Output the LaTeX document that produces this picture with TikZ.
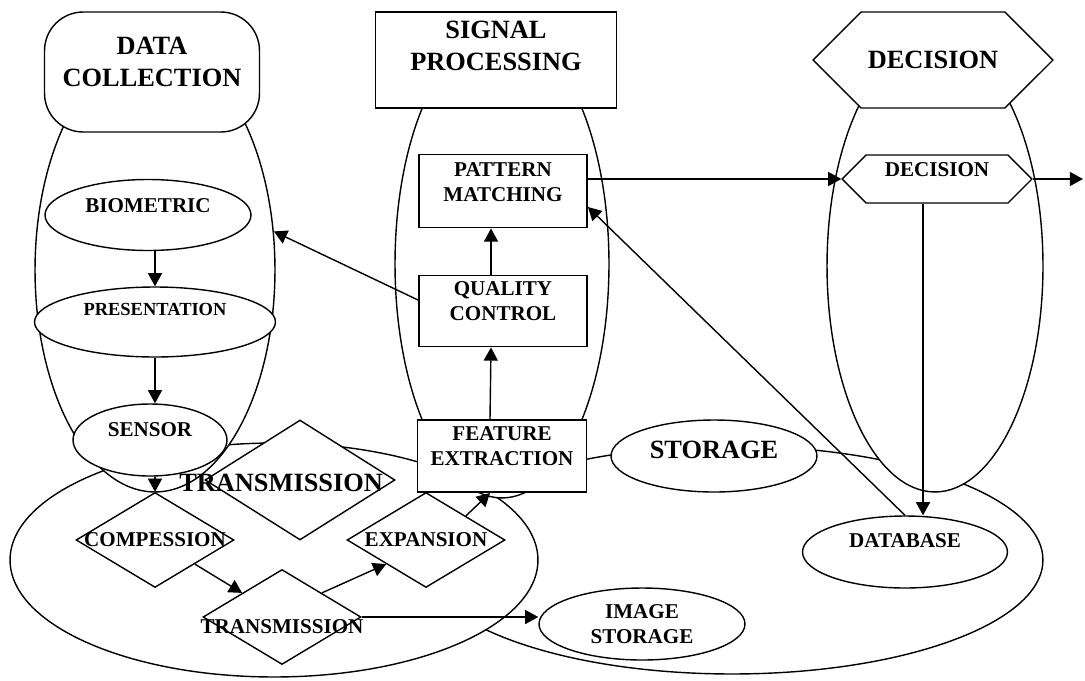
\documentclass[tikz,border=0pt]{standalone}
\usepackage{fontspec}
\setmainfont{Liberation Serif}
\usetikzlibrary{shapes.geometric,shapes.misc,arrows.meta,positioning}

\begin{document}
\begin{tikzpicture}[x=0.02cm, y=-0.02cm, line width=0.8pt,
    every node/.style={font=\bfseries\fontsize{12}{14}\selectfont, align=center, inner sep=0.5pt},
    headfont/.style={font=\bfseries\fontsize{15}{18}\selectfont},
    region/.style={draw, ellipse, fill=white},
    oval/.style={draw, ellipse, fill=white, minimum width=4.12cm, minimum height=1.44cm},
    procbox/.style={draw, rectangle, fill=white, line width=1.1pt, minimum width=3.36cm, minimum height=1.44cm},
    gem/.style={draw, diamond, fill=white, minimum width=3.16cm, minimum height=1.9cm},
    hex/.style={draw, chamfered rectangle, fill=white, inner ysep=0pt},
    lift/.style={text height=0pt, text depth=#1},
    drop/.style={text depth=0pt, text height=#1},
    arr/.style={-{Triangle[length=7.5pt,width=8pt]}}]

    \useasboundingbox (0,0) rectangle (1085,680);

    % group ellipses
    \node[region, minimum width=12.44cm, minimum height=4.56cm] (stgrp) at (732,560) {};
    \node[region, minimum width=10.56cm, minimum height=4.68cm] (trgrp) at (274,560) {};
    \node[region, minimum width=4.32cm, minimum height=9.04cm] (decgrp) at (935,266) {};
    \node[region, minimum width=4.28cm, minimum height=9.36cm] (spgrp) at (502,264) {};
    \node[region, minimum width=4.8cm, minimum height=8.88cm] (dcgrp) at (155,270) {};

    % headers
    \node[draw, fill=white, rounded corners=22pt, minimum width=4.3cm, minimum height=2.4cm,
          headfont, drop=16.4pt] (dchead) at (152,72) {DATA\\COLLECTION};
    \node[procbox, minimum width=4.82cm, minimum height=1.92cm, headfont, drop=11.9pt] (sphead) at (496,60) {SIGNAL\\PROCESSING};
    \node[hex, minimum width=4.8cm, minimum height=1.92cm, chamfered rectangle xsep=0.98cm,
          chamfered rectangle ysep=0.96cm, headfont] (dechead) at (933,60)
          {\raisebox{-4.9pt}[0pt][0pt]{DECISION}};

    % data collection
    \node[oval, minimum height=1.42cm, lift=3.4pt] (biometric) at (148,215) {BIOMETRIC};
    \node[oval, minimum width=4.82cm, minimum height=1.4cm, font=\bfseries\fontsize{10.5}{12}\selectfont,
          lift=7.3pt] (presentation) at (155,322) {PRESENTATION};
    \node[oval, minimum width=3.08cm, lift=4.1pt] (sensor) at (150,440) {SENSOR};

    % signal processing
    \node[procbox, minimum height=1.46cm, drop=11.7pt] (pattern) at (503,191) {PATTERN\\MATCHING};
    \node[procbox, minimum height=1.42cm, drop=10.6pt] (quality) at (503,311) {QUALITY\\CONTROL};
    \node[procbox, minimum width=3.38cm, drop=10.6pt] (feature) at (502,456) {FEATURE\\EXTRACTION};

    % decision
    \node[hex, minimum width=3.8cm, minimum height=0.96cm, chamfered rectangle xsep=0.74cm,
          chamfered rectangle ysep=0.48cm] (decision) at (937,179)
          {\raisebox{1.15pt}[0pt][0pt]{DECISION}};
    \node[oval, minimum width=4.1cm, lift=4.6pt] (database) at (905,552) {DATABASE};

    % storage
    \node[oval, headfont, drop=3pt] (storage) at (714,456) {STORAGE};
    \node[oval, drop=21.9pt] (imgstore) at (642,624) {IMAGE\\STORAGE};

    % transmission
    \node[gem, minimum width=3.8cm, minimum height=2.4cm, headfont, drop=13.2pt] (trhead) at (300,480)
          {\makebox[0pt]{TRANSMISSION\hspace{21.5pt}}};
    \node[gem] (compress) at (155,540) {\makebox[0pt]{COMPESSION}};
    \node[gem, drop=19.2pt] (transmit) at (282,617) {\makebox[0pt]{TRANSMISSION}};
    \node[gem] (expand) at (426,540) {\makebox[0pt]{EXPANSION}};

    % arrows
    \draw[arr] (presentation.north |- biometric.south) -- (presentation.north);
    \draw[arr] (presentation.south) -- (presentation.south |- sensor.north);
    \draw[arr] (compress.north |- sensor.south) -- (compress.north);
    \draw[arr] (compress.south east) -- (transmit.north west);
    \draw[arr] (transmit.north east) -- (expand.south west);
    \draw[arr] (expand.north east) -- ([xshift=-0.24cm]feature.south);
    \draw[arr] (transmit.east) -- (transmit.east -| imgstore.west);
    \draw[arr] ([xshift=-0.24cm]feature.north) -- ([xshift=-0.24cm]quality.south);
    \draw[arr] ([xshift=-0.24cm]quality.north) -- ([xshift=-0.24cm]pattern.south);
    \draw[arr] ([yshift=0.22cm]quality.west) -- (dcgrp.18);
    \draw[arr] (pattern.east |- decision.west) -- (decision.west);
    \coordinate (exit) at (1083,179);
    \draw[arr] (decision.east) -- (exit);
    \draw[arr] ([xshift=-0.28cm]decision.south) -- ([xshift=-0.28cm]decision.south |- database.north);
    \draw[arr] (database.north) -- ([yshift=-0.32cm]pattern.east);
\end{tikzpicture}
\end{document}
